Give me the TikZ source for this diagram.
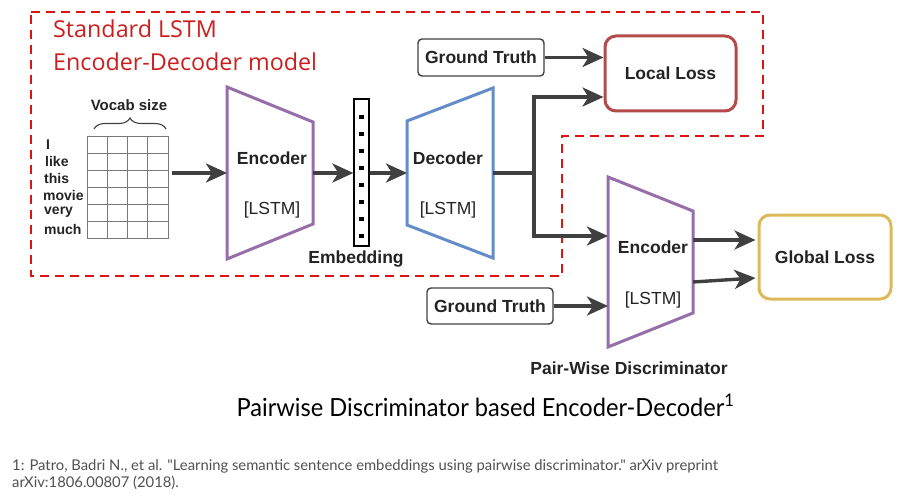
\documentclass[tikz,border=0pt]{standalone}
\usepackage{fontspec}
\setmainfont{Liberation Sans}
\newfontfamily\titlefont{Open Sans}
\newfontfamily\capfont{Lato}
\usetikzlibrary{arrows.meta,decorations.pathreplacing}
\definecolor{arrgray}{RGB}{64,64,64}
\definecolor{txtgray}{RGB}{35,35,35}
\definecolor{dashred}{RGB}{220,20,20}
\definecolor{titlered}{RGB}{205,30,30}
\definecolor{encpurple}{RGB}{150,110,170}
\definecolor{decblue}{RGB}{100,140,200}
\definecolor{lossred}{RGB}{180,75,75}
\definecolor{lossgold}{RGB}{222,185,90}
\definecolor{gridgray}{RGB}{120,120,120}
\definecolor{footgray}{RGB}{80,80,80}
\begin{document}
\begin{tikzpicture}[x=1pt,y=-1pt,
  arr/.style={draw=arrgray, line width=3.4pt, -{Stealth[length=21pt,width=19pt,inset=6pt]}},
  lbl/.style={text=txtgray, font=\bfseries\fontsize{17.5}{20}\selectfont, inner sep=0pt},
  lstm/.style={text=txtgray, font=\fontsize{17.5}{20}\selectfont, inner sep=0pt},
  word/.style={text=txtgray, font=\bfseries\fontsize{14}{15}\selectfont, inner sep=0pt, anchor=west},
  gtbox/.style={draw=arrgray, line width=1.4pt, rounded corners=4pt, minimum width=126pt, minimum height=37pt, inner sep=0pt, text=txtgray, font=\bfseries\fontsize{17.5}{20}\selectfont},
  lossbox/.style={line width=3pt, rounded corners=11pt, inner sep=0pt, text=txtgray, font=\bfseries\fontsize{17.5}{20}\selectfont},
  trap/.style={line width=3pt, line join=miter},
  ghost/.style={inner sep=0pt, outer sep=0pt},
  emdot/.style={fill=black, minimum size=4.5pt, inner sep=0pt},
  gridline/.style={draw=gridgray, line width=0.9pt},
  foot/.style={anchor=base west, text=footgray, font=\capfont\fontsize{14.8}{17}\selectfont, inner sep=0pt}
]
\useasboundingbox (0,0) rectangle (900,500);

% red dashed region
\draw[dashred, line width=2.5pt, dash pattern=on 9pt off 6pt]
  (31,12) -- (763,12) -- (763,136) -- (562,136) -- (562,276) -- (31,276) -- cycle;
\node[anchor=base west, text=titlered, font=\titlefont\fontsize{23.3}{26}\selectfont, inner sep=0pt] (t1) at (53,38) {Standard LSTM};
\node[anchor=base west, text=titlered, font=\titlefont\fontsize{23.3}{26}\selectfont, inner sep=0pt] (t2) at (53,71) {Encoder-Decoder model};

% input grid
\node[gridline, minimum width=81pt, minimum height=102pt, inner sep=0pt] (grid) at (127.5,187) {};
\foreach \i in {1,2,3} \draw[gridline] (87+20.25*\i,136) -- ++(0,102);
\foreach \j in {1,...,5} \draw[gridline] (87,136+17*\j) -- ++(81,0);
\node[lbl, font=\bfseries\fontsize{15}{18}\selectfont] (vs) at (129,105) {Vocab size};
\draw[arrgray, line width=1.1pt, decorate, decoration={brace, amplitude=11pt}] (94,129) -- (166,129);
\node[word] (w1) at (46,144.5) {I};
\node[word] (w2) at (45,161.5) {like};
\node[word] (w3) at (44,178.5) {this};
\node[word] (w4) at (43,195.5) {movie};
\node[word] (w5) at (44,212.5) {very};
\node[word] (w6) at (44,229.5) {much};

% encoder 1
\draw[trap, draw=encpurple] (227,87) -- (313,122) -- (313,224) -- (227,259) -- cycle;
\node[ghost, minimum width=86pt, minimum height=172pt] (enc1) at (270,173) {};
\node[lbl] (enc1t) at (272,158) {Encoder};
\node[lstm] (enc1l) at (272,210) {[LSTM]};

% embedding
\node[draw=black, line width=1.3pt, minimum width=15pt, minimum height=147pt, inner sep=0pt] (emb) at (361.5,172.5) {};
\foreach \i in {0,...,7} \node[emdot] (d\i) at (361.5,117+17*\i) {};
\node[lbl] (embt) at (356,259) {Embedding};

% decoder
\draw[trap, draw=decblue] (407,121) -- (493,88) -- (493,258) -- (407,225) -- cycle;
\node[ghost, minimum width=86pt, minimum height=170pt] (dec) at (450,173) {};
\node[lbl] (dect) at (448,158) {Decoder};
\node[lstm] (decl) at (448,210) {[LSTM]};

% ground truth 1, local loss
\node[gtbox] (gt1) at (481,57.5) {Ground Truth};
\node[lossbox, draw=lossred, minimum width=131pt, minimum height=75pt] (ll) at (670.5,73.5) {Local Loss};

% encoder 2 (discriminator)
\draw[trap, draw=encpurple] (608,177) -- (693,211) -- (693,313) -- (608,347) -- cycle;
\node[ghost, minimum width=85pt, minimum height=170pt] (enc2) at (650.5,262) {};
\node[lbl] (enc2t) at (653,247) {Encoder};
\node[lstm] (enc2l) at (653,300) {[LSTM]};
\node[lbl] (pwd) at (629,368) {Pair-Wise Discriminator};

\node[gtbox, minimum height=36pt] (gt2) at (490,306) {Ground Truth};
\node[lossbox, draw=lossgold, minimum width=132pt, minimum height=84pt] (gl) at (825,257) {Global Loss};

% connectors
\coordinate (sp) at (534,173);
\draw[arr] ([xshift=4pt]grid.east |- enc1.west) -- (enc1.west);
\draw[arr] (enc1.east) -- (emb.west |- enc1.east);
\draw[arr] (emb.east |- dec.west) -- (dec.west);
\draw[arrgray, line width=3.4pt] (dec.east) -- (sp);
\draw[arr] (sp) |- ([yshift=-23.5pt]ll.west);
\draw[arr] (sp) |- ([yshift=26pt]enc2.west);
\draw[arr] (gt1.east) -- (ll.west |- gt1.east);
\draw[arr] (gt2.east) -- (enc2.west |- gt2.east);
\draw[arr] ([yshift=22pt]enc2.east) -- ([xshift=-2pt,yshift=17pt]gl.west);
\draw[arr] ([yshift=-20pt]enc2.east) -- ([xshift=-2pt,yshift=-21pt]gl.west);

% caption and footnote
\node[anchor=base, text=black, font=\capfont\fontsize{25}{28}\selectfont, inner sep=0pt] (cap) at (485.5,416) {\scalebox{0.945}[1]{Pairwise Discriminator based Encoder-Decoder\textsuperscript{1}}};
\node[foot] (fn1) at (12,470) {1: Patro, Badri N., et al. "Learning semantic sentence embeddings using pairwise discriminator." arXiv preprint};
\node[foot] (fn2) at (12,487) {arXiv:1806.00807 (2018).};
\end{tikzpicture}
\end{document}
